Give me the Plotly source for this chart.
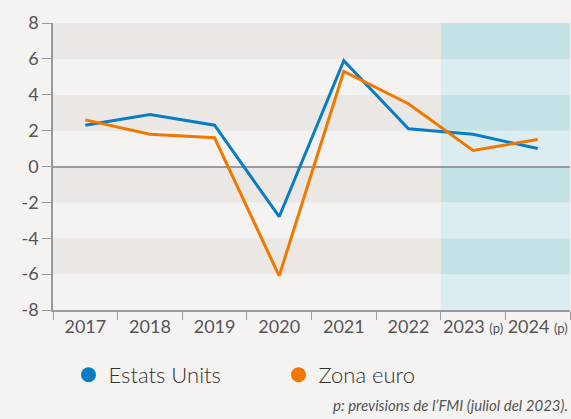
import plotly.graph_objects as go

years = ["2017", "2018", "2019", "2020", "2021", "2022", "2023", "2024"]
tick_labels = ["2017", "2018", "2019", "2020", "2021", "2022",
               "2023 <span style='font-size:13px'>(p)</span>",
               "2024 <span style='font-size:13px'>(p)</span>"]
y_ticks = [-8, -6, -4, -2, 0, 2, 4, 6, 8]
y_tick_labels = ["-8", "-6", "-4", "-2", "0", "2", "4", "6", "8"]
us = [2.3, 2.9, 2.3, -2.8, 5.9, 2.1, 1.8, 1.0]
euro = [2.6, 1.8, 1.6, -6.1, 5.3, 3.5, 0.9, 1.5]
series_names = ["Estats Units", "Zona euro"]
colors = ["#0a7cc2", "#f07800"]
footnote = "p: previsions de l’FMI (juliol del 2023)."

fig = go.Figure()

shapes = []
for lo in range(-8, 8, 2):
    dark = (lo // 2) % 2 == 1
    shapes.append(dict(type="rect", xref="x", yref="y", x0=-0.5, x1=5.5, y0=lo, y1=lo + 2,
                       fillcolor="#ebe7e4" if dark else "#f4f3f2", line_width=0, layer="below"))
    shapes.append(dict(type="rect", xref="x", yref="y", x0=5.5, x1=7.55, y0=lo, y1=lo + 2,
                       fillcolor="#c3e2e5" if dark else "#dbedf0", line_width=0, layer="below"))

for name, vals, c in zip(series_names, [us, euro], colors):
    fig.add_trace(go.Scatter(x=years, y=vals, mode="lines", line=dict(color=c, width=3),
                             showlegend=False, hoverinfo="skip"))
for name, c in zip(series_names, colors):
    fig.add_trace(go.Scatter(x=[None], y=[None], mode="markers", name=name,
                             marker=dict(color=c, size=15)))

fig.update_layout(
    width=571, height=419,
    margin=dict(l=53, r=1, t=23, b=109, autoexpand=False),
    paper_bgcolor="#f4f3f2", plot_bgcolor="#f4f3f2",
    font=dict(family="Lato", color="#555555", size=16),
    shapes=shapes,
    showlegend=True,
    legend=dict(orientation="h", xref="container", yref="container",
                x=0.12, y=0.105, xanchor="left", yanchor="middle",
                font=dict(size=22, color="#333333", weight=300),
                entrywidth=165, entrywidthmode="pixels", bgcolor="rgba(0,0,0,0)"),
    annotations=[dict(text="<i>" + footnote + "</i>", xref="paper", yref="paper",
                      x=1.0, y=-0.33, xanchor="right", yanchor="middle", showarrow=False,
                      font=dict(size=15, color="#555555"))],
)
fig.update_xaxes(type="category", tickmode="array", tickvals=years, ticktext=tick_labels,
                 tickson="boundaries", ticks="outside", ticklen=8, tickcolor="#9a9a9a",
                 showline=True, linecolor="#9a9a9a", linewidth=1.5, showgrid=False,
                 tickangle=0, automargin=False,
                 range=[-0.5, 7.5], tickfont=dict(size=18, color="#555555"))
fig.update_yaxes(range=[-8, 8], tickmode="array", tickvals=y_ticks, ticktext=y_tick_labels,
                 ticks="outside", ticklen=9, automargin=False,
                 tickcolor="#9a9a9a", showline=True, linecolor="#9a9a9a", linewidth=1.5,
                 showgrid=False, zeroline=True, zerolinecolor="#9a9a9a", zerolinewidth=2,
                 tickfont=dict(size=18, color="#555555"))

fig.write_html("out.html", config={"displayModeBar": False},
               post_script="document.body.style.margin='0';")
